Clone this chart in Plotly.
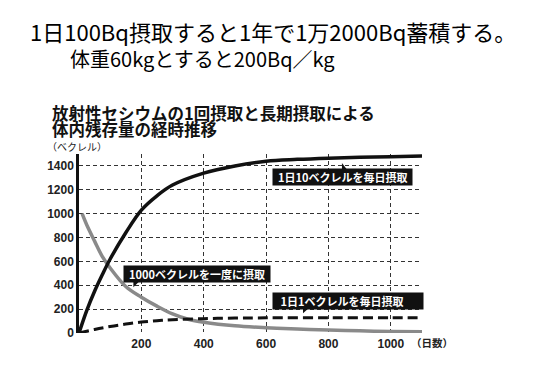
import plotly.graph_objects as go

# ---- data ----
days_10 = [0, 25, 50, 75, 100, 150, 200, 250, 300, 400, 500, 600, 700, 800, 900, 1000, 1100]
bq_10 = [0, 190, 350, 490, 620, 840, 1030, 1150, 1240, 1340, 1400, 1440, 1455, 1465, 1472, 1478, 1483]

days_once = [10, 25, 50, 75, 100, 150, 200, 250, 300, 350, 400, 500, 600, 700, 800, 900, 1000, 1100]
bq_once = [1000, 905, 770, 640, 545, 390, 300, 225, 160, 115, 90, 60, 45, 33, 25, 18, 13, 10]

days_1 = [0, 50, 100, 150, 200, 250, 300, 400, 500, 600, 800, 1000, 1100]
bq_1 = [0, 30, 55, 75, 92, 103, 112, 120, 125, 127, 128, 128, 128]

y_ticks = [0, 200, 400, 600, 800, 1000, 1200, 1400]
x_ticks = [200, 400, 600, 800, 1000]

title1 = "1日100Bq摂取すると1年で1万2000Bq蓄積する。"
title2 = "体重60kgとすると200Bq／kg"
chart_title1 = "放射性セシウムの1回摂取と長期摂取による"
chart_title2 = "体内残存量の経時推移"
y_unit = "（ベクレル）"
x_unit = "（日数）"
label_10 = "1日10ベクレルを毎日摂取"
label_once = "1000ベクレルを一度に摂取"
label_1 = "1日1ベクレルを毎日摂取"

# ---- layout geometry (pixels) ----
W, H = 559, 374
L, R, T, B = 78.5, 422.25, 154.1, 332.7


def px(x):
    return (x - L) / (R - L)


def py(y):
    return (B - y) / (B - T)


JP = "Noto Sans CJK JP"
NB = "\u00a0"
fig = go.Figure()

fig.add_trace(go.Scatter(x=days_once, y=bq_once, mode="lines", line=dict(color="#8a8a8a", width=3.5, shape="spline"), hoverinfo="skip"))
fig.add_trace(go.Scatter(x=days_1, y=bq_1, mode="lines", line=dict(color="#111111", width=3, dash="10px,5px", shape="spline"), hoverinfo="skip"))
fig.add_trace(go.Scatter(x=days_10, y=bq_10, mode="lines", line=dict(color="#111111", width=3.5, shape="spline"), hoverinfo="skip"))

ann = []
ann.append(dict(text='<span style="font-size:22px">' + title1 + "</span><br>\u3000\u3000" + title2,
                x=px(27), y=py(44), xref="paper", yref="paper", showarrow=False, align="left",
                xanchor="left", yanchor="middle", font=dict(family=JP, size=20, color="#000")))
ann.append(dict(text="<b>" + chart_title1 + "</b>", x=px(49), y=py(113), xref="paper", yref="paper", showarrow=False,
                xanchor="left", yanchor="middle", font=dict(family=JP, size=16.5, color="#111")))
ann.append(dict(text="<b>" + chart_title2 + "</b>", x=px(49), y=py(129), xref="paper", yref="paper", showarrow=False,
                xanchor="left", yanchor="middle", font=dict(family=JP, size=16.5, color="#111")))
ann.append(dict(text=y_unit, x=px(44), y=py(147), xref="paper", yref="paper", showarrow=False,
                xanchor="left", yanchor="middle", font=dict(family=JP, size=10, color="#222")))
ann.append(dict(text="<b>" + x_unit + "</b>", x=px(409), y=py(342), xref="paper", yref="paper", showarrow=False,
                xanchor="left", yanchor="middle", font=dict(family=JP, size=10.5, color="#222")))

for txt, x0, yc, pre, post in [(label_10, 272, 177.5, 2, 2), (label_once, 123, 273.5, 2, 2), (label_1, 272, 301, 3, 8)]:
    ann.append(dict(text="<b>" + NB * pre + txt + NB * post + "</b>", x=px(x0), y=py(yc), xref="paper", yref="paper",
                    showarrow=False, xanchor="left", yanchor="middle", bgcolor="#111111", borderpad=0,
                    font=dict(family=JP, size=11, color="#ffffff")))

shapes = []
# pointer triangles of the label boxes
for pts in [[(342, 163), (342, 172), (349, 172)],
            [(133, 287), (133, 279), (141, 279)],
            [(303, 313), (303, 306), (311, 306)]]:
    path = "M " + " L ".join(f"{px(a)},{py(b)}" for a, b in pts) + " Z"
    shapes.append(dict(type="path", path=path, xref="paper", yref="paper", fillcolor="#111111", line=dict(width=0)))

fig.update_layout(
    width=W, height=H,
    margin=dict(l=L, r=W - R, t=T, b=H - B),
    paper_bgcolor="white", plot_bgcolor="white",
    showlegend=False,
    annotations=ann, shapes=shapes,
    xaxis=dict(range=[0, 1100], tickvals=x_ticks, ticktext=["<b>%d</b>" % v for v in x_ticks],
               showgrid=True, gridcolor="#333333", gridwidth=1, griddash="4px,3px",
               zeroline=False, showline=False, ticks="",
               tickfont=dict(family="Liberation Sans", size=12, color="#222"), ticklabelstandoff=2),
    yaxis=dict(range=[0, 1500], tickvals=y_ticks, ticktext=["<b>%d</b>" % v for v in y_ticks],
               showgrid=True, gridcolor="#333333", gridwidth=1, griddash="4px,3px",
               zeroline=True, zerolinecolor="white", zerolinewidth=2,
               showline=True, linecolor="#111111", linewidth=2.5, ticks="",
               tickfont=dict(family="Liberation Sans", size=12, color="#222")),
)

fig.write_html("out.html", config={"displayModeBar": False},
               post_script="document.body.style.margin='0px';")
